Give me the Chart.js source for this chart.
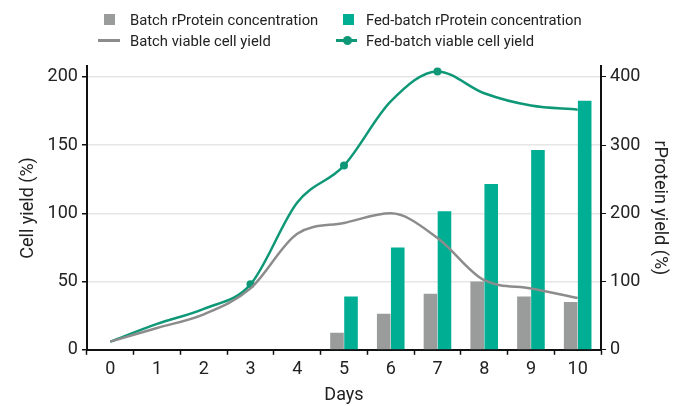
<!DOCTYPE html>
<html>
<head>
<meta charset="utf-8">
<script src="https://cdn.jsdelivr.net/npm/chart.js@4"></script>
<style>
  html, body { margin: 0; padding: 0; background: #fff; }
  #wrap { position: relative; width: 682px; height: 406px; }
  canvas { position: absolute; left: 0; top: 0; }
  .lg { position: absolute; font-family: Roboto, sans-serif; font-size: 14.8px; color: #222; white-space: nowrap; line-height: 16px; }
  .sw { position: absolute; }
</style>
</head>
<body>
<div id="wrap">
  <canvas id="c" width="682" height="406"></canvas>
  <div class="sw" style="left:104px;top:14px;width:11px;height:11px;background:#999c9b"></div>
  <div class="lg" style="left:130px;top:12px">Batch rProtein concentration</div>
  <div class="sw" style="left:343px;top:14px;width:11px;height:11px;background:#00ae93"></div>
  <div class="lg" style="left:366px;top:12px">Fed-batch rProtein concentration</div>
  <div class="sw" style="left:98px;top:39px;width:22px;height:3px;background:#8c8c8c"></div>
  <div class="lg" style="left:130px;top:33px">Batch viable cell yield</div>
  <div class="sw" style="left:336px;top:39px;width:21px;height:3px;background:#0f9878"></div>
  <div class="sw" style="left:343px;top:36px;width:9px;height:9px;border-radius:50%;background:#0f9878"></div>
  <div class="lg" style="left:366px;top:33px">Fed-batch viable cell yield</div>
</div>
<script>
const days = ['0','1','2','3','4','5','6','7','8','9','10'];
const batchProtein    = [null, null, null, null, null, 25, 53, 82, 100, 78, 70];
const fedBatchProtein = [null, null, null, null, null, 78, 150, 203, 243, 293, 365];
const batchCells      = [6, 16, 26, 45, 85, 93, 100, 82, 51, 45, 38];
const fedBatchCells   = [6, 19, 30, 48, 108, 135, 182, 204, 188, 179, 176];
const fedBatchMarkers = [0, 0, 0, 4, 0, 4, 0, 4, 0, 0, 0];
const leftTicks  = [0, 50, 100, 150, 200];
const rightTicks = [0, 100, 200, 300, 400];

const FONT = 'Roboto, sans-serif';
const setTicks = (vals) => (scale) => { scale.ticks = vals.map(v => ({ value: v })); };

new Chart(document.getElementById('c'), {
  data: {
    labels: days,
    datasets: [
      { type: 'line', label: 'Batch viable cell yield', data: batchCells, yAxisID: 'y',
        borderColor: '#8c8c8c', borderWidth: 2.5, pointRadius: 0, cubicInterpolationMode: 'monotone', order: 0 },
      { type: 'line', label: 'Fed-batch viable cell yield', data: fedBatchCells, yAxisID: 'y',
        borderColor: '#0f9878', backgroundColor: '#0f9878', borderWidth: 2.5, pointRadius: fedBatchMarkers,
        pointBorderWidth: 0, cubicInterpolationMode: 'monotone', order: 0 },
      { type: 'bar', label: 'Batch rProtein concentration', data: batchProtein, yAxisID: 'y2',
        backgroundColor: '#999c9b', categoryPercentage: 0.6, barPercentage: 0.97, order: 1 },
      { type: 'bar', label: 'Fed-batch rProtein concentration', data: fedBatchProtein, yAxisID: 'y2',
        backgroundColor: '#00ae93', categoryPercentage: 0.6, barPercentage: 0.97, order: 1 }
    ]
  },
  options: {
    responsive: false,
    animation: false,
    layout: { padding: { top: 66, left: 14, right: 8, bottom: 0 } },
    plugins: { legend: { display: false }, tooltip: { enabled: false } },
    scales: {
      x: {
        offset: true,
        grid: { offset: true, drawOnChartArea: false, color: '#111', tickLength: 5, tickWidth: 1.5 },
        border: { color: '#111', width: 2 },
        ticks: { color: '#222', font: { family: FONT, size: 18 }, padding: 4 },
        title: { display: true, text: 'Days', color: '#222', font: { family: FONT, size: 18 }, padding: { top: 0, bottom: 0 } }
      },
      y: {
        position: 'left', min: 0, max: 208, afterBuildTicks: setTicks(leftTicks),
        ticks: { color: '#222', font: { family: FONT, size: 18 }, padding: 4 },
        grid: { color: '#e6e6e6', lineWidth: 1.5, tickColor: '#111', tickLength: 5 },
        border: { color: '#111', width: 2 },
        title: { display: true, text: 'Cell yield (%)', color: '#222', font: { family: FONT, size: 18 }, padding: { bottom: 4 } }
      },
      y2: {
        position: 'right', min: 0, max: 416, afterBuildTicks: setTicks(rightTicks),
        ticks: { color: '#222', font: { family: FONT, size: 18 }, padding: 4 },
        grid: { drawOnChartArea: false, tickColor: '#111', tickLength: 5 },
        border: { color: '#111', width: 2 },
        title: { display: true, text: 'rProtein yield (%)', color: '#222', font: { family: FONT, size: 18 }, padding: { top: 4 } }
      }
    }
  }
});
</script>
</body>
</html>
